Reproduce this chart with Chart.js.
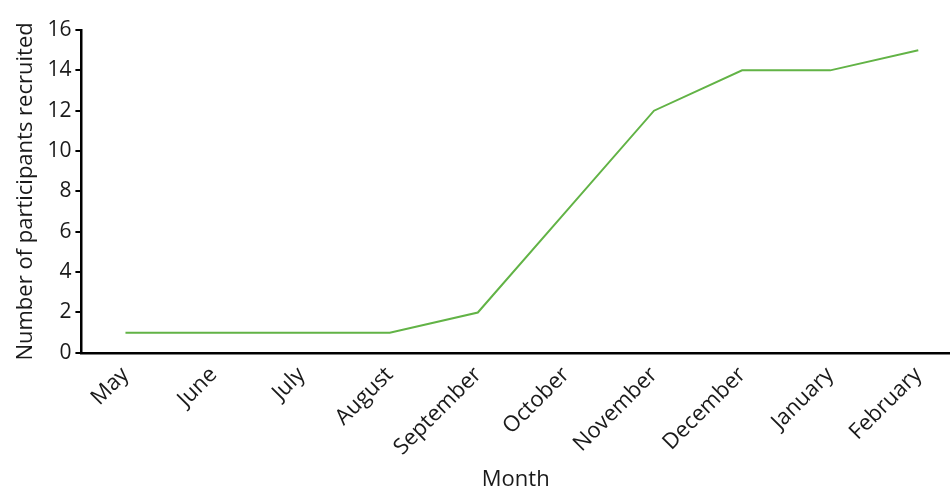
<!DOCTYPE html>
<html><head><meta charset="utf-8">
<script src="https://cdn.jsdelivr.net/npm/chart.js@4"></script>
<style>html,body{margin:0;padding:0;background:#fff;overflow:hidden}#wrap{width:950px;height:488px}</style>
</head><body><div id="wrap"><canvas id="c" width="950" height="488"></canvas></div>
<script>
const months = ["May","June","July","August","September","October","November","December","January","February"];
const recruited = [1,1,1,1,2,7,12,14,14,15];
const yTicks = [0,2,4,6,8,10,12,14,16];

const FONT = "'Open Sans', 'Noto Sans', sans-serif";
new Chart(document.getElementById('c'), {
  type: 'line',
  data: {
    datasets: [{
      data: months.map((m,i)=>({x:i,y:recruited[i]})),
      borderColor: '#62b346',
      borderWidth: 2,
      pointRadius: 0,
      tension: 0,
      fill: false
    }]
  },
  options: {
    responsive: false,
    animation: false,
    layout: {padding: {top: 30, right: 0, left: 13, bottom: -5}},
    plugins: {legend: {display: false}, tooltip: {enabled: false}},
    scales: {
      x: {
        type: 'linear',
        min: -0.5, max: 9.36,
        afterBuildTicks: (s) => { s.ticks = months.map((m,i)=>({value:i})); },
        ticks: {
          callback: (v) => months[v],
          maxRotation: 45, minRotation: 45,
          autoSkip: false,
          color: '#1a1a1a',
          font: {family: FONT, size: 22},
          padding: 9
        },
        grid: {drawOnChartArea: false, drawTicks: false},
        border: {color: '#000', width: 2.5},
        title: {display: true, text: 'Month', color: '#1a1a1a', font: {family: FONT, size: 22}, padding: {top: -3, bottom: 0}}
      },
      y: {
        min: 0, max: 16,
        afterBuildTicks: (s) => { s.ticks = yTicks.map(v=>({value:v})); },
        ticks: {color: '#1a1a1a', font: {family: FONT, size: 21}, padding: 4},
        grid: {drawOnChartArea: false, drawTicks: true, tickLength: 6, color: '#000', lineWidth: 2},
        border: {color: '#000', width: 2.5},
        title: {display: true, text: 'Number of participants recruited', color: '#1a1a1a', font: {family: FONT, size: 22}, padding: {top: 0, bottom: 4}}
      }
    }
  }
});
</script></body></html>
